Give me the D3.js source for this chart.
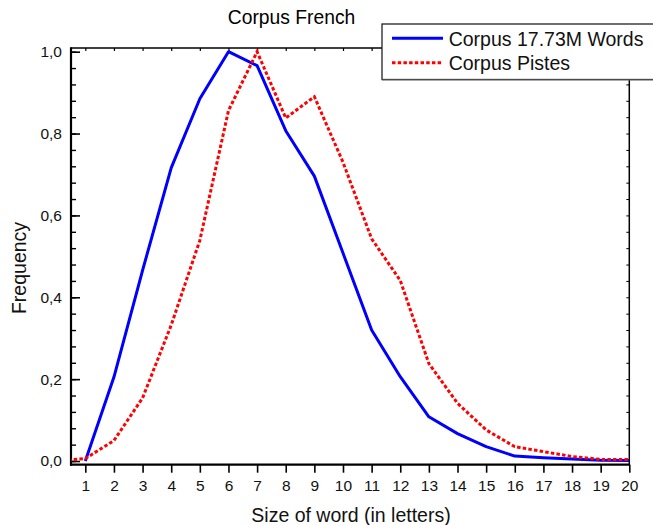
<!DOCTYPE html>
<html>
<head>
<meta charset="utf-8">
<script src="https://cdn.jsdelivr.net/npm/d3@7"></script>
<style>
  html, body { margin: 0; padding: 0; background: #fff; }
  svg { display: block; font-family: "Liberation Sans", Arial, sans-serif; }
</style>
</head>
<body>
<svg id="chart" width="653" height="525"></svg>
<script>
// ---- data ----
const blueSizes = [1, 2, 3, 4, 5, 6, 7, 8, 9, 10, 11, 12, 13, 14, 15, 16, 17, 18, 19, 20];
const blueValues = [0, 0.205, 0.466, 0.716, 0.885, 1.0, 0.966, 0.807, 0.696, 0.508, 0.320, 0.206, 0.108, 0.067, 0.035, 0.012, 0.008, 0.005, 0.002, 0.001];
const redSizes = [0, 1, 2, 3, 4, 5, 6, 7, 8, 9, 10, 11, 12, 13, 14, 15, 16, 17, 18, 19, 20];
const redValues = [0, 0.006, 0.05, 0.154, 0.332, 0.539, 0.856, 1.0, 0.838, 0.890, 0.730, 0.543, 0.441, 0.238, 0.141, 0.076, 0.035, 0.023, 0.011, 0.004, 0.004];
const xTicks = [1, 2, 3, 4, 5, 6, 7, 8, 9, 10, 11, 12, 13, 14, 15, 16, 17, 18, 19, 20];
const yTicks = [0, 0.2, 0.4, 0.6, 0.8, 1.0];
const yMinorTicks = d3.range(0, 26).map(i => i * 0.04);
const seriesNames = ["Corpus 17.73M Words", "Corpus Pistes"];
const titleText = "Corpus French";
const xLabel = "Size of word (in letters)";
const yLabel = "Frequency";

// ---- layout ----
const L = 71, R = 629.3, T = 48, B = 464.7;
const svg = d3.select("#chart");
const x = d3.scaleLinear().domain([0.5, 20]).range([L, R]);
const y = d3.scaleLinear().domain([-0.009, 1.009]).range([B, T]);
const fmt = d => d3.format(".1f")(d).replace(".", ",");

svg.append("defs").append("clipPath").attr("id", "clip")
  .append("rect").attr("x", L).attr("y", T).attr("width", R - L).attr("height", B - T);

// title
svg.append("text").attr("x", 291.5).attr("y", 24).attr("text-anchor", "middle")
  .attr("font-size", 19.3).attr("fill", "#000").text(titleText);

// bottom axis
const gx = svg.append("g").attr("transform", `translate(0,${B})`)
  .call(d3.axisBottom(x).tickValues(xTicks).tickFormat(d3.format("d")).tickSize(8).tickPadding(7));
gx.select(".domain").remove();
gx.selectAll("line").attr("stroke", "#000").attr("stroke-width", 1.6);
gx.selectAll("text").attr("font-size", 15.5).attr("fill", "#111").style("font-family", "Liberation Sans, Arial, sans-serif");

// top ticks (inward)
const gt = svg.append("g").attr("transform", `translate(0,${T})`)
  .call(d3.axisTop(x).tickValues(xTicks).tickFormat("").tickSize(-3));
gt.select(".domain").remove();
gt.selectAll("line").attr("stroke", "#000").attr("stroke-width", 1.2);

// left minor ticks
const gym = svg.append("g").attr("transform", `translate(${L},0)`)
  .call(d3.axisLeft(y).tickValues(yMinorTicks).tickFormat("").tickSize(-5));
gym.select(".domain").remove();
gym.selectAll("line").attr("stroke", "#000").attr("stroke-width", 1.4);

// left major ticks + labels
const gy = svg.append("g").attr("transform", `translate(${L},0)`)
  .call(d3.axisLeft(y).tickValues(yTicks).tickFormat(fmt).tickSize(-9).tickPadding(9));
gy.select(".domain").remove();
gy.selectAll("line").attr("stroke", "#000").attr("stroke-width", 1.6);
gy.selectAll("text").attr("font-size", 15.5).attr("fill", "#111").style("font-family", "Liberation Sans, Arial, sans-serif");

// right minor ticks (inward)
const gr = svg.append("g").attr("transform", `translate(${R},0)`)
  .call(d3.axisRight(y).tickValues(yMinorTicks).tickFormat("").tickSize(-3));
gr.select(".domain").remove();
gr.selectAll("line").attr("stroke", "#000").attr("stroke-width", 1);

// frame
svg.append("line").attr("x1", L).attr("x2", R).attr("y1", T).attr("y2", T).attr("stroke", "#000").attr("stroke-width", 1.5);
svg.append("line").attr("x1", R).attr("x2", R).attr("y1", T).attr("y2", B).attr("stroke", "#000").attr("stroke-width", 1.5);
svg.append("line").attr("x1", L).attr("x2", L).attr("y1", T - 0.75).attr("y2", B + 1).attr("stroke", "#000").attr("stroke-width", 2.2);
svg.append("line").attr("x1", L - 1).attr("x2", R + 0.75).attr("y1", B).attr("y2", B).attr("stroke", "#000").attr("stroke-width", 2.2);

// lines
const line = d3.line().x(d => x(d[0])).y(d => y(d[1]));
const plot = svg.append("g").attr("clip-path", "url(#clip)");
plot.append("path").datum(blueSizes.map((s, i) => [s, blueValues[i]]))
  .attr("d", line).attr("fill", "none").attr("stroke", "#0000ff").attr("stroke-width", 3)
  .attr("stroke-linejoin", "round");
plot.append("path").datum(redSizes.map((s, i) => [s, redValues[i]]))
  .attr("d", line).attr("fill", "none").attr("stroke", "#ff0000").attr("stroke-width", 3)
  .attr("stroke-dasharray", "3.5,2.2");

// axis labels
svg.append("text").attr("x", 351).attr("y", 521.5).attr("text-anchor", "middle")
  .attr("font-size", 19.5).attr("fill", "#111").text(xLabel);
svg.append("text").attr("transform", "translate(26,268) rotate(-90)").attr("text-anchor", "middle")
  .attr("font-size", 19.5).attr("fill", "#111").text(yLabel);

// legend
const lg = svg.append("g");
lg.append("rect").attr("x", 382).attr("y", 24).attr("width", 300).attr("height", 55.5)
  .attr("fill", "#fff").attr("stroke", "#222").attr("stroke-width", 1.3);
lg.append("line").attr("x1", 382).attr("x2", 660).attr("y1", 80).attr("y2", 80)
  .attr("stroke", "#777").attr("stroke-width", 1.2);
const legendColors = ["#0000ff", "#ff0000"];
const legendDash = [null, "3.5,2.2"];
const legendY = [38.3, 62.7];
const legendBase = [45.7, 70];
seriesNames.forEach((name, i) => {
  lg.append("line").attr("x1", 392).attr("x2", 443).attr("y1", legendY[i]).attr("y2", legendY[i])
    .attr("stroke", legendColors[i]).attr("stroke-width", 3).attr("stroke-dasharray", legendDash[i]);
  lg.append("text").attr("x", 448.7).attr("y", legendBase[i]).attr("font-size", 19.5)
    .attr("fill", "#111").text(name);
});
</script>
</body>
</html>
